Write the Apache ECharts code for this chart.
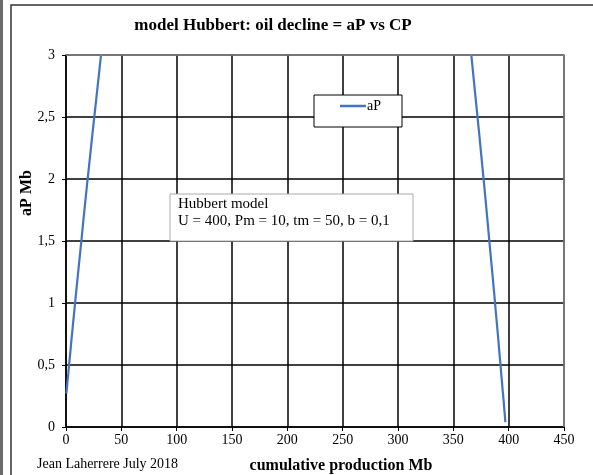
<!DOCTYPE html>
<html>
<head>
<meta charset="UTF-8">
<title>model Hubbert</title>
<script type="text/javascript" src="https://cdn.jsdelivr.net/npm/echarts@6/dist/echarts.min.js"></script>
<style>
html, body { margin: 0; padding: 0; background: #fff; }
#main { width: 593px; height: 475px; }
</style>
</head>
<body>
<div id="main"></div>
<script type="text/javascript">
// cumulative production (Mb) and annual production (Mb), year by year
var cumProd = [0.27, 0.56, 0.88, 1.24, 1.63, 2.07, 2.55, 3.08, 3.66, 4.30,
	5.01, 5.79, 6.64, 7.58, 8.62, 9.76, 11.01, 12.38, 13.88, 15.53,
	17.34, 19.32, 21.48, 23.84, 26.41, 29.22, 32.27, 35.58, 39.17,
	73.44, 108.99, 153.19, 202.45, 251.11, 293.77, 327.43, 351.84,
	359.32, 362.63, 365.68, 368.49, 371.06, 373.42, 375.58, 377.56, 379.36,
	381.01, 382.52, 383.89, 385.14, 386.28, 387.32, 388.26, 389.11, 389.89,
	390.60, 391.24, 391.82, 392.35, 392.83, 393.26, 393.66, 394.02, 394.34,
	394.63, 394.90, 395.14, 395.36, 395.56, 395.73, 395.90, 396.04, 396.18,
	396.30, 396.41, 396.50, 396.59, 396.67, 396.75, 396.81, 396.87, 396.93,
	396.98, 397.02, 397.06];
var annualProd = [0.27, 0.29, 0.32, 0.36, 0.39, 0.43, 0.48, 0.53, 0.58, 0.64,
	0.71, 0.78, 0.86, 0.94, 1.04, 1.14, 1.25, 1.37, 1.50, 1.65,
	1.81, 1.98, 2.16, 2.36, 2.57, 2.80, 3.05, 3.31, 3.59,
	5.97, 7.86, 9.40, 10.00, 9.40, 7.86, 5.97, 4.20,
	3.59, 3.31, 3.05, 2.80, 2.57, 2.36, 2.16, 1.98, 1.81,
	1.65, 1.50, 1.37, 1.25, 1.14, 1.04, 0.94, 0.86, 0.78,
	0.71, 0.64, 0.58, 0.53, 0.48, 0.43, 0.39, 0.36, 0.32,
	0.29, 0.27, 0.24, 0.22, 0.20, 0.18, 0.16, 0.15, 0.13,
	0.12, 0.11, 0.10, 0.09, 0.08, 0.07, 0.07, 0.06, 0.05,
	0.05, 0.04, 0.04];
var seriesName = 'aP';

var serif = '"Liberation Serif", "DejaVu Serif", serif';
var myChart = echarts.init(document.getElementById('main'));

var points = cumProd.map(function (x, i) { return [x, annualProd[i]]; });

var option = {
	backgroundColor: '#fff',
	animation: false,
	title: {
		text: 'model Hubbert: oil decline = aP vs CP',
		left: 268,
		textAlign: 'center',
		top: 12,
		textStyle: { fontFamily: serif, fontSize: 17, fontWeight: 'bold', color: '#000' }
	},
	grid: { left: 66, top: 55, width: 498, height: 372 },
	legend: {
		data: [seriesName],
		left: 314,
		top: 95,
		icon: 'rect',
		itemWidth: 26,
		itemHeight: 2.5,
		itemGap: 4,
		padding: [4, 21, 14, 26],
		backgroundColor: '#fff',
		borderColor: '#000',
		borderWidth: 1,
		borderRadius: 0,
		textStyle: { fontFamily: serif, fontSize: 14, color: '#000', padding: [0, 0, 0, -4] }
	},
	xAxis: {
		type: 'value',
		min: 0, max: 450, interval: 50,
		axisLine: { show: true, lineStyle: { color: '#000', width: 1.5 } },
		axisTick: { show: true, length: 4, lineStyle: { color: '#000' } },
		axisLabel: { fontFamily: serif, fontSize: 14, color: '#000', margin: 6 },
		splitLine: { show: true, lineStyle: { color: '#000', width: 1.5 } }
	},
	yAxis: {
		type: 'value',
		min: 0, max: 3, interval: 0.5,
		axisLine: { show: true, lineStyle: { color: '#000', width: 1.5 } },
		axisTick: { show: true, length: 4, lineStyle: { color: '#000' } },
		axisLabel: {
			fontFamily: serif, fontSize: 14, color: '#000', margin: 11,
			formatter: function (v) { return String(v).replace('.', ','); }
		},
		splitLine: { show: true, lineStyle: { color: '#000', width: 1.5 } }
	},
	series: [{
		name: seriesName,
		type: 'line',
		data: points,
		showSymbol: false,
		clip: true,
		lineStyle: { color: '#4472C4', width: 2.2 },
		itemStyle: { color: '#4472C4' }
	}],
	graphic: [
		{ type: 'rect', shape: { x: 0, y: 0, width: 3, height: 475 }, style: { fill: '#6b6b6b' }, silent: true },
		{ type: 'rect', shape: { x: 11, y: 5, width: 600, height: 500 }, style: { fill: 'none', stroke: '#333', lineWidth: 1.5 }, silent: true, z: -1 },
		// grey plot frame on top and right
		{ type: 'polyline', shape: { points: [[66, 55], [564, 55], [564, 427]] }, style: { stroke: '#888', lineWidth: 1.5, fill: 'none' }, silent: true, z: 5 },
		{ type: 'rect', shape: { x: 170, y: 194, width: 243, height: 47 }, style: { fill: '#fff', stroke: '#aaa', lineWidth: 1 }, z: 10 },
		{ type: 'text', left: 178, top: 197, z: 11, style: { text: 'Hubbert model', font: '15px ' + serif, fill: '#000' } },
		{ type: 'text', left: 178, top: 214, z: 11, style: { text: 'U = 400, Pm = 10, tm = 50, b = 0,1', font: '15px ' + serif, fill: '#000' } },
		{ type: 'text', x: 27, y: 193, rotation: Math.PI / 2, z: 11,
			style: { text: 'aP Mb', font: 'bold 16px ' + serif, fill: '#000', align: 'center', verticalAlign: 'middle' } },
		{ type: 'text', x: 341, y: 466, z: 11,
			style: { text: 'cumulative production Mb', font: 'bold 16px ' + serif, fill: '#000', align: 'center', verticalAlign: 'middle' } },
		{ type: 'text', x: 37, y: 464, z: 11,
			style: { text: 'Jean Laherrere July 2018', font: '14px ' + serif, fill: '#000', align: 'left', verticalAlign: 'middle' } }
	]
};

myChart.setOption(option);
</script>
</body>
</html>
